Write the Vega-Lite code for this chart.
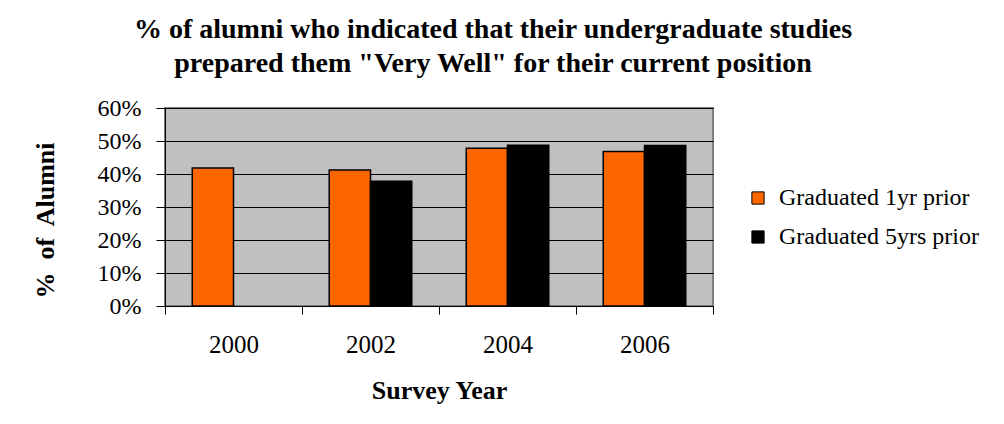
{
  "$schema": "https://vega.github.io/schema/vega-lite/v6.json",
  "autosize": {"type": "none"},
  "width": 548,
  "height": 198,
  "padding": {"left": 165, "top": 108, "right": 291, "bottom": 118},
  "background": "white",
  "title": {
    "text": ["% of alumni who indicated that their undergraduate studies", "prepared them \"Very Well\" for their current position"],
    "font": "Liberation Serif, Times New Roman, serif",
    "fontSize": 28,
    "fontWeight": "bold",
    "color": "black",
    "anchor": "middle",
    "frame": "group",
    "dx": 54,
    "lineHeight": 34,
    "offset": 18
  },
  "data": {
    "values": [
      {"year": "2000", "group": "Graduated 1yr prior", "value": 0.418},
      {"year": "2002", "group": "Graduated 1yr prior", "value": 0.412},
      {"year": "2002", "group": "Graduated 5yrs prior", "value": 0.378},
      {"year": "2004", "group": "Graduated 1yr prior", "value": 0.478},
      {"year": "2004", "group": "Graduated 5yrs prior", "value": 0.487},
      {"year": "2006", "group": "Graduated 1yr prior", "value": 0.468},
      {"year": "2006", "group": "Graduated 5yrs prior", "value": 0.486}
    ]
  },
  "mark": {"type": "bar", "stroke": "black", "strokeWidth": 1.5},
  "encoding": {
    "x": {
      "field": "year",
      "type": "nominal",
      "scale": {"paddingInner": 0, "paddingOuter": 0},
      "axis": {
        "title": "Survey Year",
        "labelAngle": 0,
        "labelFont": "Liberation Serif, Times New Roman, serif",
        "labelFontSize": 25,
        "labelColor": "black",
        "labelPadding": 18,
        "tickBand": "extent",
        "tickSize": 8,
        "tickColor": "black",
        "domainColor": "black",
        "titleFont": "Liberation Serif, Times New Roman, serif",
        "titleFontSize": 26,
        "titleFontWeight": "bold",
        "titleColor": "black",
        "titlePadding": 20
      }
    },
    "xOffset": {
      "field": "group",
      "type": "nominal",
      "scale": {"paddingInner": 0, "paddingOuter": 0.66}
    },
    "y": {
      "field": "value",
      "type": "quantitative",
      "scale": {"domain": [0, 0.6], "nice": false},
      "axis": {
        "title": "%\u00a0 of\u00a0 Alumni",
        "values": [0, 0.1, 0.2, 0.3, 0.4, 0.5, 0.6],
        "format": ".0%",
        "labelFont": "Liberation Serif, Times New Roman, serif",
        "labelFontSize": 24,
        "labelColor": "black",
        "labelPadding": 15,
        "tickSize": 9,
        "tickColor": "black",
        "domainColor": "black",
        "grid": true,
        "gridColor": "black",
        "gridWidth": 1,
        "titleFont": "Liberation Serif, Times New Roman, serif",
        "titleFontSize": 26,
        "titleFontWeight": "bold",
        "titleColor": "black",
        "titleX": -120,
        "titleY": 112,
        "titleAngle": 270,
        "titleAlign": "center",
        "titleBaseline": "middle"
      }
    },
    "color": {
      "field": "group",
      "type": "nominal",
      "scale": {"domain": ["Graduated 1yr prior", "Graduated 5yrs prior"], "range": ["#FF6600", "#000000"]},
      "legend": {
        "title": null,
        "orient": "none",
        "legendX": 581,
        "legendY": 78,
        "symbolType": "square",
        "symbolSize": 150,
        "symbolStrokeColor": "black",
        "symbolStrokeWidth": 1,
        "labelFont": "Liberation Serif, Times New Roman, serif",
        "labelFontSize": 24,
        "labelColor": "black",
        "labelOffset": 9,
        "labelLimit": 400,
        "rowPadding": 15
      }
    }
  },
  "config": {
    "view": {"fill": "#C0C0C0", "stroke": "#808080", "strokeWidth": 2}
  }
}
